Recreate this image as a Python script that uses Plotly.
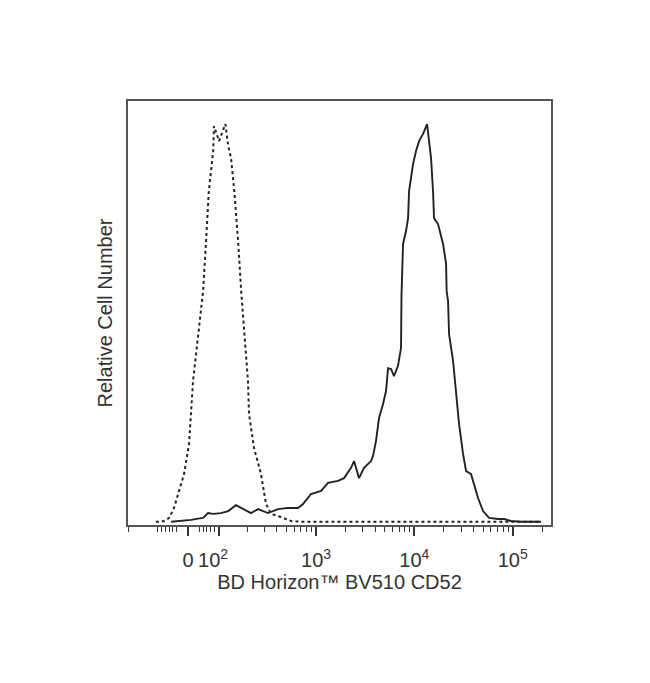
import numpy as np
import plotly.graph_objects as go

# ---- data (fluorescence values, relative cell number) ----
isotype_x = [-104, -91, -83, -70, -57, -41, -21, 6, 17, 26, 45, 60, 68, 75, 86, 88,
             101, 118.5, 127, 136, 147, 161, 173, 190, 203, 208, 234, 275, 310, 348,
             441, 557, 704, 1500, 5000, 20000, 80000, 194500]
isotype_y = [0, 0, 0.2, 1.0, 3.5, 7.8, 12.1, 19.6, 27.2, 35.5, 46.8, 58.1, 70.7, 83.3, 93.4, 99.7,
             95.9, 100.2, 94.7, 91.6, 83.3, 70.7, 58.1, 45.5, 35.5, 27.2, 18.6, 12.1, 4.5, 2.0,
             1.2, 0.2, 0, 0, 0, 0, 0, 0]

cd52_x = [-65, -26, 17, 45, 60, 73, 86, 106, 127, 153, 173, 218, 257, 325, 410, 519, 656,
          738, 889, 1125, 1325, 1675, 1927, 2270, 2437, 2738, 3078, 3628, 3802, 4076, 4375,
          4806, 5155, 5400, 5794, 6212, 6819, 7322, 7400, 7677, 8238, 8635, 8836, 9700,
          10400, 11170, 12270, 13470, 14120, 14790, 15490, 15860, 17420, 18690, 19590,
          21030, 21300, 22030, 22550, 24780, 26560, 28510, 31290, 33560, 37740, 40470,
          44460, 49990, 57540, 71010, 81830, 96340, 121700, 194500]
cd52_y = [0, 0.2, 0.5, 0.8, 1.0, 2.2, 2.0, 2.2, 2.7, 4.2, 3.5, 2.2, 3.2, 2.2, 3.2, 3.5, 3.5,
          4.5, 7.0, 7.8, 9.8, 10.3, 11.0, 13.6, 15.3, 11.0, 13.6, 15.3, 16.6, 20.4, 26.2,
          29.7, 33.0, 38.7, 38.5, 36.7, 39.3, 43.8, 57.0, 70.0, 73.3, 76.5, 83.3, 90.1,
          93.4, 95.9, 97.7, 100.2, 95.9, 91.6, 83.3, 76.5, 75.0, 71.5, 70.0,
          65.0, 58.1, 55.6, 47.3, 40.5, 32.2, 24.6, 17.1, 12.8, 12.0, 9.5,
          6.0, 2.7, 1.0, 0.7, 0.7, 0.2, 0, 0]

major_ticks = [0, 100, 1000, 10000, 100000]
major_text = ["0", "10<sup>2</sup>\u00a0\u00a0", "10<sup>3</sup>", "10<sup>4</sup>",
              "10<sup>5</sup>"]
minor_ticks = ([-200, -100, -90, -80, -70, -60, -50, 50, 60, 70, 80, 90]
               + [m * 10 ** e for e in (2, 3, 4) for m in range(2, 10)] + [200000])

# ---- biexponential (logicle-like) display transform ----
U0, P = 1.698, 4.28
_t = np.linspace(0, 4, 40001)
_f = 10 ** U0 * (10 ** _t - 10 ** (-P * _t))


def biex(v):
    v = np.asarray(v, dtype=float)
    return U0 + np.sign(v) * np.interp(np.abs(v), _f, _t)


line_col = "#222222"
fig = go.Figure()
fig.add_trace(go.Scatter(x=biex(isotype_x), y=isotype_y, mode="lines",
                         line=dict(color=line_col, width=2, dash="dot"),
                         showlegend=False, hoverinfo="skip"))
fig.add_trace(go.Scatter(x=biex(cd52_x), y=cd52_y, mode="lines",
                         line=dict(color=line_col, width=1.9),
                         showlegend=False, hoverinfo="skip"))

fnt = "Liberation Sans, Arial, sans-serif"
fig.update_layout(
    width=650, height=683,
    margin=dict(l=120, r=107, t=93, b=166),
    paper_bgcolor="white", plot_bgcolor="white",
    font=dict(family=fnt, color="#333333"),
    xaxis=dict(
        range=[1.0875, 5.39], showgrid=False, zeroline=False,
        showline=True, mirror=True, linecolor="#555555", linewidth=2,
        tickmode="array", tickvals=biex(major_ticks).tolist(), ticktext=major_text,
        tickangle=0,
        ticks="outside", ticklen=9, tickwidth=1.5, tickcolor="#333333",
        ticklabelstandoff=7,
        tickfont=dict(size=20, color="#333333", family=fnt),
        minor=dict(tickmode="array", tickvals=biex(minor_ticks).tolist(),
                   ticks="outside", ticklen=5, tickwidth=1.3, tickcolor="#333333",
                   showgrid=False),
        title=dict(text="BD Horizon™ BV510 CD52", font=dict(size=20, color="#333333"),
                   standoff=0),
    ),
    yaxis=dict(
        range=[-0.8, 106], showgrid=False, zeroline=False,
        showline=True, mirror=True, linecolor="#555555", linewidth=2,
        showticklabels=False, ticks="",
        title=dict(text="Relative Cell Number", font=dict(size=20, color="#333333"),
                   standoff=8),
    ),
)

fig.write_html("out.html")
